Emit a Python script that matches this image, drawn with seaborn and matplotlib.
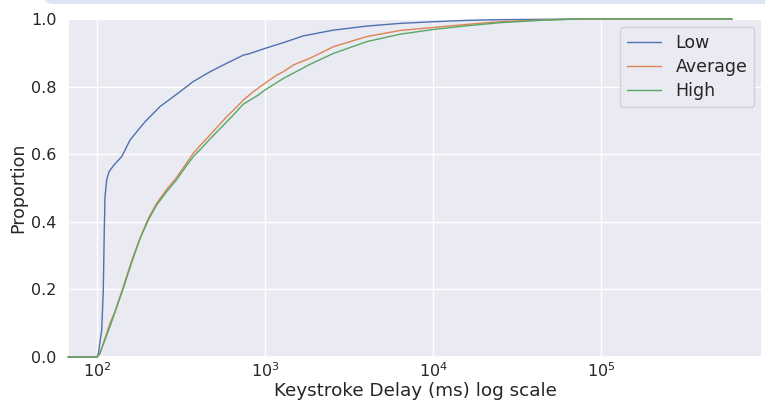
import matplotlib
matplotlib.use("Agg")
import matplotlib.pyplot as plt
import seaborn as sns
import pandas as pd
from matplotlib.patches import FancyBboxPatch

# ---- data (delay in ms, cumulative proportion) ----
low_delay = [67.2, 100, 101.8, 106.7, 109.0, 110.5, 111.6, 114.2, 117.8, 126.2, 140.3,
             146.8, 157.2, 176.1, 193.1, 206.8, 237.1, 284.6, 374.3, 470.7, 591.6,
             742.9, 814, 1000, 1285, 1690, 2550, 4031, 6363, 10040, 15870, 25050,
             43350, 75000, 602600]
low_prop = [0, 0, 0.01, 0.080, 0.198, 0.376, 0.474, 0.524, 0.548, 0.568, 0.593,
            0.612, 0.642, 0.672, 0.696, 0.711, 0.741, 0.770, 0.815, 0.844, 0.869,
            0.893, 0.898, 0.913, 0.930, 0.950, 0.967, 0.979, 0.987, 0.992, 0.996, 0.998,
            0.999, 1.0, 1.0]

avg_delay = [67.2, 100, 104.2, 119.5, 128.0, 143.4, 160.9, 180.3, 202.0, 226.7, 259.9,
             298.2, 326.4, 374.3, 410.3, 470.7, 591.6, 647.6, 742.9, 852, 1000, 1174,
             1285, 1474, 1853, 2550, 4031, 6363, 10040, 15870, 25050, 43350, 75000, 602600]
avg_prop = [0, 0, 0.011, 0.10, 0.135, 0.208, 0.285, 0.352, 0.41, 0.455, 0.496,
            0.532, 0.56, 0.603, 0.625, 0.657, 0.711, 0.73, 0.760, 0.785, 0.810, 0.834,
            0.844, 0.864, 0.884, 0.918, 0.948, 0.966, 0.975, 0.984, 0.992, 0.997, 1.0, 1.0]

high_delay = [67.2, 100.5, 103.5, 119.5, 143.4, 160.9, 180.3, 202.0, 226.7, 259.9, 298.2,
              326.4, 374.3, 410.3, 470.7, 647.6, 742.9, 912.5, 1000, 1285, 1853, 2550,
              4031, 6363, 10040, 15870, 25050, 43350, 75000, 602600]
high_prop = [0, 0, 0.008, 0.09, 0.203, 0.28, 0.35, 0.405, 0.45, 0.489, 0.525,
             0.553, 0.593, 0.613, 0.645, 0.716, 0.748, 0.775, 0.790, 0.824, 0.866, 0.898,
             0.933, 0.955, 0.969, 0.980, 0.989, 0.996, 1.0, 1.0]

levels = ["Low", "Average", "High"]

df = pd.concat([
    pd.DataFrame({"delay": low_delay, "prop": low_prop, "level": "Low"}),
    pd.DataFrame({"delay": avg_delay, "prop": avg_prop, "level": "Average"}),
    pd.DataFrame({"delay": high_delay, "prop": high_prop, "level": "High"}),
], ignore_index=True)

sns.set_theme(style="darkgrid", context="notebook")
plt.rcParams["font.family"] = ["DejaVu Sans"]

fig = plt.figure(figsize=(7.65, 4.01), dpi=100)
ax = fig.add_axes([68 / 765, 1 - 357 / 401, (762 - 68) / 765, (357 - 19) / 401])

palette = sns.color_palette("deep", 3)
for i, lv in enumerate(levels):
    sub = df[df["level"] == lv]
    sns.lineplot(data=sub, x="delay", y="prop", ax=ax, color=palette[i],
                 linewidth=1.0, label=lv, estimator=None, sort=False,
                 clip_on=False, zorder=3)

ax.set_xscale("log")
ax.set_xlim(67.2, 908000)
ax.set_ylim(0, 1)
ax.set_yticks([0.0, 0.2, 0.4, 0.6, 0.8, 1.0])
ax.minorticks_off()
ax.set_xlabel("Keystroke Delay (ms) log scale", fontsize=13.2)
ax.set_ylabel("Proportion", fontsize=12.5)
ax.xaxis.set_label_coords(0.5, -0.073)
ax.yaxis.set_label_coords(-0.058, 0.5)
ax.tick_params(labelsize=11.5)
ax.tick_params(axis="x", pad=-2.8)
ax.tick_params(axis="y", pad=2.4)
ax.legend(loc="upper right", fontsize=12.5, borderaxespad=0.45, labelspacing=0.35)

# light UI band at the very top of the screenshot
band = FancyBboxPatch((45 / 765, 1 - 4 / 401), 1.2, 0.2, transform=fig.transFigure,
                      boxstyle="round,pad=0,rounding_size=0.012",
                      facecolor="#dde6f4", edgecolor="none", zorder=-1)
fig.patches.append(band)

fig.savefig("out.png", dpi=100)
